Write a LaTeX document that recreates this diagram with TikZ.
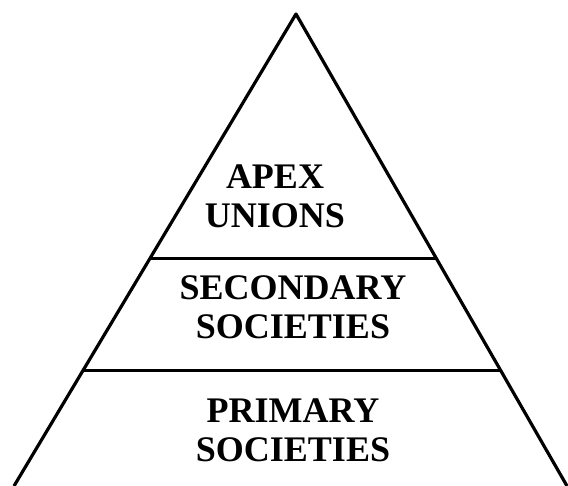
\documentclass[tikz,border=0pt]{standalone}
\usepackage{fontspec}
\setmainfont{Liberation Serif}
\usetikzlibrary{calc}

\begin{document}
\begin{tikzpicture}[x=1pt,y=-1pt,line width=3.2pt,
    level/.style={font=\bfseries\fontsize{36}{39}\selectfont, align=center, inner sep=0pt}]
    \useasboundingbox (0,0) rectangle (568,486);
    \coordinate (top) at (296,14);
    \coordinate (bl) at (14,486);
    \coordinate (br) at (567,486);
    \draw[line join=round] (bl) -- (top) -- (br);
    \coordinate (l1) at ($(top)!0.518!(bl)$);
    \coordinate (r1) at ($(top)!0.518!(br)$);
    \coordinate (l2) at ($(top)!0.756!(bl)$);
    \coordinate (r2) at ($(top)!0.756!(br)$);
    \draw (l1) -- (r1);
    \draw (l2) -- (r2);

    \node[level] at (275,196) (apex) {APEX\\UNIONS};
    \node[level] at (293,307) (secondary) {SECONDARY\\SOCIETIES};
    \node[level] at (293,430) (primary) {PRIMARY\\SOCIETIES};

\end{tikzpicture}
\end{document}
